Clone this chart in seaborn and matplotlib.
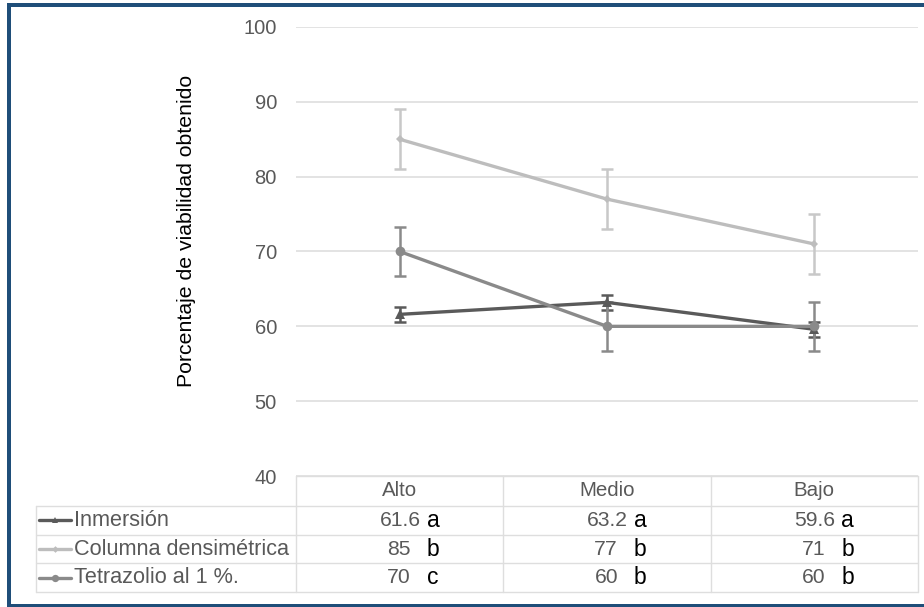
import numpy as np
import pandas as pd
import seaborn as sns
import matplotlib
matplotlib.use("Agg")
import matplotlib.pyplot as plt
from matplotlib.lines import Line2D
from matplotlib.transforms import blended_transform_factory

# ---------------- data ----------------
categories = ["Alto", "Medio", "Bajo"]
series_names = ["Inmersión", "Columna densimétrica", "Tetrazolio al 1 %."]
inmersion = [61.6, 63.2, 59.6]
columna = [85, 77, 71]
tetrazolio = [70, 60, 60]
err_inmersion = [1.0, 1.0, 1.0]
err_columna = [4.0, 4.0, 4.0]
err_tetrazolio = [3.3, 3.3, 3.3]
letters_inmersion = ["a", "a", "a"]
letters_columna = ["b", "b", "b"]
letters_tetrazolio = ["c", "b", "b"]
yticks = [40, 50, 60, 70, 80, 90, 100]
ylabel = "Porcentaje de viabilidad obtenido"

values = [inmersion, columna, tetrazolio]
errors = [err_inmersion, err_columna, err_tetrazolio]
letters = [letters_inmersion, letters_columna, letters_tetrazolio]

df = pd.DataFrame({
    "Categoria": categories * 3,
    "Serie": [s for s in series_names for _ in categories],
    "Valor": inmersion + columna + tetrazolio,
})

# ---------------- style ----------------
sns.set_theme(style="white")
plt.rcParams["font.family"] = ["Liberation Sans", "DejaVu Sans"]

colors = ["#5a5a5a", "#bdbdbd", "#8a8a8a"]
err_colors = ["#5a5a5a", "#c8c8c8", "#8a8a8a"]
markers = ["^", "D", "o"]
msizes = [6.5, 4.5, 7]
text_gray = "#595959"
grid_col = "#dedede"

W, H = 924, 607
fig = plt.figure(figsize=(W / 100, H / 100), dpi=100)
ax_l, ax_r, ax_t, ax_b = 296, 918, 27, 476
ax = fig.add_axes([ax_l / W, (H - ax_b) / H, (ax_r - ax_l) / W, (ax_b - ax_t) / H])
ax_h_px = ax_b - ax_t
unit_px = (ax_r - ax_l) / len(categories)

for i, name in enumerate(series_names):
    sub = df[df["Serie"] == name]
    sns.lineplot(data=sub, x="Categoria", y="Valor", ax=ax, color=colors[i],
                 marker=markers[i], markersize=msizes[i], markeredgewidth=0,
                 linewidth=2.4, sort=False, legend=False, zorder=3 + i * 0.1)
    ax.errorbar(np.arange(len(categories)), values[i], yerr=errors[i], fmt="none",
                ecolor=err_colors[i], elinewidth=1.8, capsize=4, capthick=1.8,
                zorder=2.5 + i * 0.1)

ax.set_xlim(-0.5, len(categories) - 0.5)
ax.set_ylim(40, 100)
ax.set_yticks(yticks)
ax.set_xticks([])
ax.set_xlabel("")
ax.set_ylabel("")
ax.yaxis.grid(True, color=grid_col, linewidth=1.2)
ax.xaxis.grid(False)
for s in ax.spines.values():
    s.set_visible(False)
ax.tick_params(axis="y", length=0, pad=13.7, labelsize=14.5, labelcolor=text_gray)

# y label
ax.text((187 - ax_l) / (ax_r - ax_l), (ax_b - 231) / ax_h_px, ylabel,
        rotation=90, ha="center", va="center", fontsize=15.3, color="black",
        transform=ax.transAxes)

# ---------------- data table ----------------
blend = blended_transform_factory(ax.transData, ax.transAxes)
def ay(px_below):
    return -px_below / ax_h_px

row_bounds = [0, 29.7, 59.0, 87.3, 116.3]
x_left = -0.5 - (ax_l - 36) / unit_px
x_right = len(categories) - 0.5
lkw = dict(color=grid_col, linewidth=1.0, transform=blend, clip_on=False, zorder=1)

# horizontal lines
ax.add_line(Line2D([-0.5, x_right], [ay(0), ay(0)], **lkw))
for rb in row_bounds[1:]:
    ax.add_line(Line2D([x_left, x_right], [ay(rb), ay(rb)], **lkw))
# vertical lines
for k in range(len(categories) + 1):
    xv = -0.5 + k
    ax.add_line(Line2D([xv, xv], [ay(0), ay(row_bounds[-1])], **lkw))
ax.add_line(Line2D([x_left, x_left], [ay(row_bounds[1]), ay(row_bounds[-1])], **lkw))

row_centers = [(row_bounds[j] + row_bounds[j + 1]) / 2 for j in range(4)]

# header
for i, c in enumerate(categories):
    ax.text(i, ay(row_centers[0]), c, ha="center", va="center", fontsize=14.8,
            color=text_gray, transform=blend, clip_on=False)

# rows
for r, name in enumerate(series_names):
    yc = ay(row_centers[r + 1])
    x0 = -0.5 - (ax_l - 39) / unit_px
    x1 = -0.5 - (ax_l - 71) / unit_px
    ax.add_line(Line2D([x0, x1], [yc, yc], color=colors[r], linewidth=2.4,
                       transform=blend, clip_on=False))
    ax.add_line(Line2D([(x0 + x1) / 2], [yc], color=colors[r], marker=markers[r],
                       markersize=msizes[r] * 0.75, markeredgewidth=0,
                       transform=blend, clip_on=False))
    ax.text(-0.5 - (ax_l - 74) / unit_px, yc, name, ha="left", va="center",
            fontsize=15.6, color=text_gray, transform=blend, clip_on=False)
    for i in range(len(categories)):
        v = values[r][i]
        s = f"{v:g}"
        letter_dx = 27  # px right of column centre
        gap = 6 if "." in s else 16
        ax.annotate(letters[r][i], xy=(i, yc), xycoords=blend,
                    xytext=(letter_dx * 0.72, 0), textcoords="offset points",
                    ha="left", va="center", fontsize=16.5, color="black",
                    annotation_clip=False)
        ax.annotate(s, xy=(i, yc), xycoords=blend,
                    xytext=((letter_dx - gap) * 0.72, 0), textcoords="offset points",
                    ha="right", va="center", fontsize=15.2, color=text_gray,
                    annotation_clip=False)

# ---------------- frame border ----------------
bcol = "#1f4e79"
blw = 4 * 0.72
def fx(x): return x / W
def fy(y): return 1 - y / H
fig.add_artist(Line2D([fx(9), fx(9)], [fy(5), fy(605.5)], color=bcol, linewidth=blw,
                      solid_capstyle="projecting"))
fig.add_artist(Line2D([fx(9), fx(930)], [fy(5), fy(5)], color=bcol, linewidth=blw,
                      solid_capstyle="projecting"))
fig.add_artist(Line2D([fx(9), fx(930)], [fy(605.5), fy(605.5)], color=bcol, linewidth=blw,
                      solid_capstyle="projecting"))

fig.savefig("out.png", dpi=100, facecolor="white")
